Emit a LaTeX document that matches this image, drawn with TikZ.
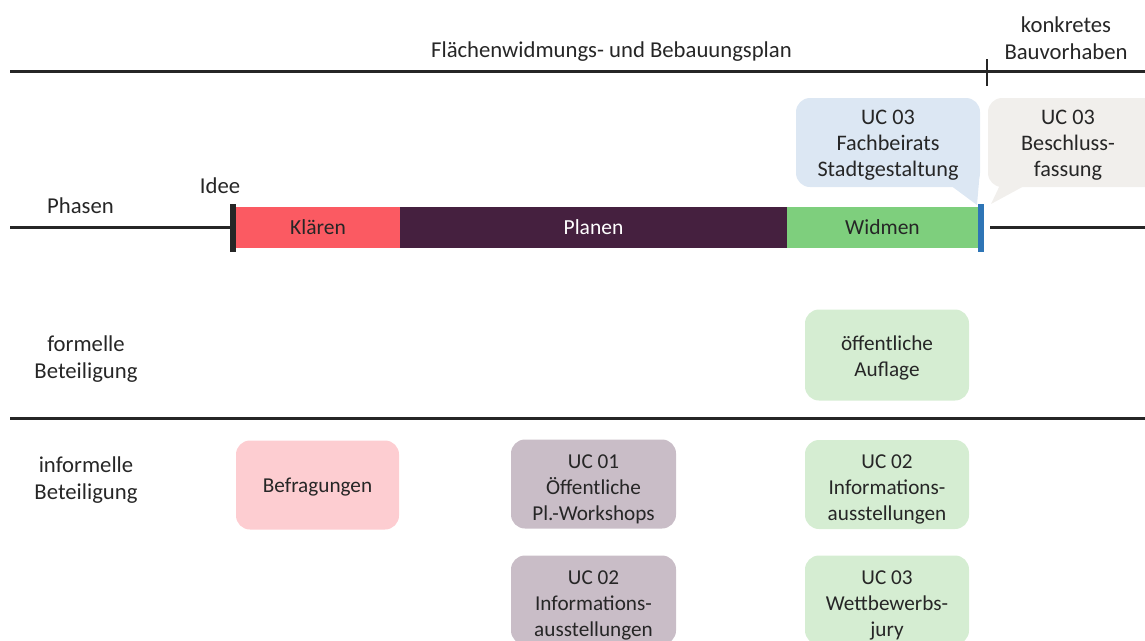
\documentclass[tikz,border=0pt]{standalone}
\usepackage{fontspec}
\setmainfont{Carlito}
\definecolor{rulegray}{HTML}{262626}
\definecolor{txt}{HTML}{262626}
\definecolor{klaeren}{HTML}{FB5A62}
\definecolor{planen}{HTML}{45203F}
\definecolor{widmen}{HTML}{7ECF7D}
\definecolor{marker}{HTML}{2E75B6}
\definecolor{calloutblue}{HTML}{DCE7F3}
\definecolor{calloutgray}{HTML}{F1EFEC}
\definecolor{pinkbox}{HTML}{FDCDD1}
\definecolor{purplebox}{HTML}{C9BDC7}
\definecolor{greenbox}{HTML}{D5EDD2}
\begin{document}
\begin{tikzpicture}[x=1pt,y=-1pt,
  every node/.style={text=txt},
  bigfont/.style={font=\fontsize{22.7}{27}\selectfont},
  boxfont/.style={font=\fontsize{21.2}{26}\selectfont},
  rule/.style={draw=rulegray, line width=3pt},
  tick/.style={draw=rulegray, line width=2pt},
  rowlabel/.style={bigfont, align=center, inner sep=0},
  phase/.style={font=\fontsize{21.5}{26}\selectfont, minimum height=41pt, inner sep=0},
  box/.style={rounded corners=14pt, minimum width=164pt, minimum height=89pt, inner sep=0},
  boxtext/.style={boxfont, align=center, inner sep=0},
  callout/.style={rounded corners=14pt, minimum height=89pt, inner sep=0},
  callouttext/.style={font=\fontsize{22.2}{26}\selectfont, align=center, inner sep=0}
]
\useasboundingbox (0,0) rectangle (1145,640);

% header
\node[bigfont] (fbp) at (611.5,52) {Flächenwidmungs- und Bebauungsplan};
\node[bigfont, align=center] (konkret) at (1066,38) {konkretes\\Bauvorhaben};
\coordinate (topL) at (10,71);
\coordinate (topR) at (1145,71);
\draw[rule] (topL) -- (topR);
\coordinate (tickT) at (987,59);
\coordinate (tickB) at (987,86);
\draw[tick] (tickT) -- (tickB);

% callouts above the phase bar
\fill[calloutblue] (950,185) -- (977,205) -- (980,170) -- cycle;
\node[callout, fill=calloutblue, minimum width=184pt] (fachbeirat) at (888,142.5) {};
\node[callouttext] (fachbeiratT) at (888,145) {UC 03\\Fachbeirats\\Stadtgestaltung};
\fill[calloutgray] (1000,185) -- (991,204) -- (1026,185) -- cycle;
\node[callout, fill=calloutgray, minimum width=176pt] (beschluss) at (1076,142.5) {};
\node[callouttext] (beschlussT) at (1068,145) {UC 03\\Beschluss-\\fassung};

% phases
\node[bigfont, anchor=west, inner sep=0] (phasen) at (47,206) {Phasen};
\node[bigfont] (idee) at (220,186) {Idee};
\coordinate (phL) at (10,227.5);
\coordinate (phR) at (1145,227.5);
\coordinate (phM) at (990,227.5);
\node[phase, fill=klaeren, minimum width=164pt] (klaeren) at (318,227.5) {Klären};
\node[phase, fill=planen, minimum width=387pt, text=white] (planen) at (593.5,227.5) {Planen};
\node[phase, fill=widmen, minimum width=191pt] (widmen) at (882.5,227.5) {Widmen};
\draw[rule] (phL) -- (klaeren.west);
\draw[rule] (phM) -- (phR);
\fill[rulegray] (230,204) rectangle (236,252);
\fill[marker] (978,204) rectangle (984,252);

% formal participation
\node[rowlabel] (formell) at (86,359) {formelle\\Beteiligung};
\node[box, fill=greenbox, minimum height=91pt] (auflage) at (887,355) {};
\node[boxtext] (auflageT) at (887,357.5) {öffentliche\\Auflage};
\coordinate (midL) at (10,418);
\coordinate (midR) at (1145,418);
\draw[rule] (midL) -- (midR);

% informal participation
\node[rowlabel] (informell) at (86,480.5) {informelle\\Beteiligung};
\node[box, fill=pinkbox, minimum width=163pt] (befragung) at (317.5,485) {};
\node[boxtext] (befragungT) at (317.5,487) {Befragungen};
\node[box, fill=purplebox, minimum width=165pt] (workshops) at (593.5,484) {};
\node[boxtext] (workshopsT) at (593.5,489) {UC 01\\Öffentliche\\Pl.-Workshops};
\node[box, fill=purplebox, minimum width=165pt] (ausstellP) at (593.5,600) {};
\node[boxtext] (ausstellPT) at (593.5,605) {UC 02\\Informations-\\ausstellungen};
\node[box, fill=greenbox] (ausstellW) at (887,484.5) {};
\node[boxtext] (ausstellWT) at (887,489) {UC 02\\Informations-\\ausstellungen};
\node[box, fill=greenbox] (jury) at (887,600) {};
\node[boxtext] (juryT) at (887,605) {UC 03\\Wettbewerbs-\\jury};
\end{tikzpicture}
\end{document}
